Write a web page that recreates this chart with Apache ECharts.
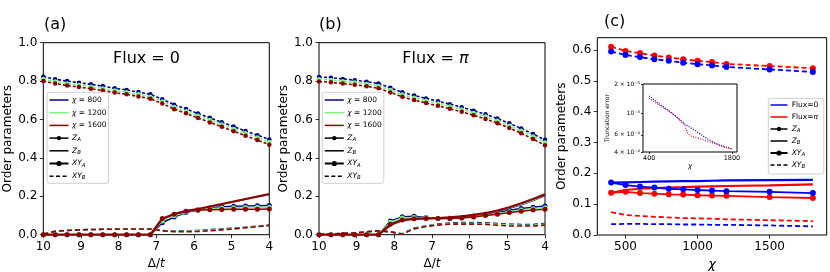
<!DOCTYPE html>
<html><head><meta charset="utf-8">
<script src="https://cdn.jsdelivr.net/npm/echarts@6/dist/echarts.min.js"></script>
<style>html,body{margin:0;padding:0;background:#fff}#c{width:830px;height:272px}</style>
</head><body><div id="c"></div>
<script>
// ---------- data ----------
const DELTA = [10, 9.684, 9.368, 9.053, 8.737, 8.421, 8.105, 7.789, 7.474, 7.158, 6.842, 6.526, 6.211, 5.895, 5.579, 5.263, 4.947, 4.632, 4.316, 4.0];
const DELTA_TICKS = [4, 5, 6, 7, 8, 9, 10];
const OP_TICKS = [0, 0.2, 0.4, 0.6, 0.8, 1.0];
const CHI_LABELS = ['800', '1200', '1600'];

// panel (a) Flux = 0
const a_XYA_800  = [0.823,0.810,0.800,0.792,0.783,0.774,0.763,0.754,0.743,0.731,0.706,0.677,0.655,0.631,0.609,0.586,0.563,0.540,0.518,0.496];
const a_XYA_1200 = [0.811,0.798,0.788,0.780,0.771,0.762,0.751,0.742,0.731,0.719,0.694,0.665,0.643,0.619,0.597,0.574,0.551,0.528,0.506,0.483];
const a_XYA_1600 = [0.800,0.787,0.777,0.769,0.760,0.751,0.740,0.731,0.720,0.708,0.683,0.654,0.632,0.608,0.585,0.562,0.539,0.516,0.493,0.469];
const a_ZA_800  = [0,0,0,0,0,0,0,0,0,0,0.062,0.092,0.115,0.130,0.139,0.145,0.148,0.150,0.151,0.152];
const a_ZA_1200 = [0,0,0,0,0,0,0,0,0,0,0.072,0.099,0.118,0.130,0.136,0.139,0.141,0.142,0.143,0.143];
const a_ZA_1600 = [0,0,0,0,0,0,0,0,0,0,0.085,0.106,0.122,0.127,0.130,0.131,0.132,0.133,0.133,0.134];
const a_ZB_800  = [0,0,0,0,0,0,0,0,0,0,0.065,0.095,0.117,0.131,0.145,0.158,0.171,0.184,0.197,0.209];
const a_ZB_1200 = [0,0,0,0,0,0,0,0,0,0,0.074,0.101,0.120,0.132,0.146,0.159,0.172,0.185,0.198,0.210];
const a_ZB_1600 = [0,0,0,0,0,0,0,0,0,0,0.083,0.108,0.124,0.134,0.147,0.160,0.173,0.186,0.199,0.212];
const a_XYB_800  = [0.003,0.018,0.022,0.025,0.027,0.028,0.029,0.030,0.030,0.030,0.022,0.018,0.019,0.022,0.026,0.030,0.034,0.039,0.044,0.048];
const a_XYB_1200 = [0.003,0.018,0.022,0.025,0.027,0.028,0.029,0.030,0.030,0.030,0.021,0.017,0.017,0.020,0.023,0.028,0.032,0.037,0.043,0.049];
const a_XYB_1600 = [0.003,0.018,0.022,0.025,0.027,0.028,0.029,0.030,0.030,0.030,0.020,0.016,0.015,0.017,0.020,0.025,0.030,0.036,0.042,0.050];

// panel (b) Flux = pi
const b_XYA_800  = [0.822,0.818,0.811,0.805,0.797,0.787,0.765,0.742,0.725,0.710,0.695,0.680,0.664,0.646,0.627,0.605,0.580,0.553,0.524,0.494];
const b_XYA_1200 = [0.810,0.806,0.799,0.793,0.785,0.775,0.753,0.730,0.713,0.698,0.683,0.668,0.652,0.634,0.615,0.593,0.568,0.541,0.511,0.480];
const b_XYA_1600 = [0.798,0.794,0.787,0.781,0.773,0.763,0.741,0.718,0.701,0.686,0.671,0.656,0.640,0.622,0.603,0.581,0.556,0.528,0.498,0.466];
const b_ZA_800  = [0,0,0,0,0,0,0.072,0.093,0.096,0.090,0.085,0.086,0.090,0.097,0.107,0.115,0.127,0.137,0.143,0.149];
const b_ZA_1200 = [0,0,0,0,0,0,0.065,0.087,0.090,0.088,0.085,0.085,0.088,0.094,0.103,0.110,0.120,0.129,0.135,0.141];
const b_ZA_1600 = [0,0,0,0,0,0,0.055,0.077,0.083,0.085,0.085,0.085,0.087,0.092,0.100,0.106,0.115,0.122,0.128,0.133];
const b_ZB_800  = [0,0,0,0,0,0,0.060,0.085,0.088,0.087,0.087,0.089,0.093,0.100,0.110,0.122,0.137,0.155,0.177,0.203];
const b_ZB_1200 = [0,0,0,0,0,0,0.055,0.080,0.085,0.086,0.087,0.089,0.094,0.101,0.111,0.125,0.140,0.158,0.180,0.206];
const b_ZB_1600 = [0,0,0,0,0,0,0.050,0.075,0.082,0.085,0.087,0.090,0.095,0.103,0.113,0.126,0.143,0.164,0.186,0.210];
const b_XYB_800  = [0.002,0.004,0.007,0.010,0.015,0.020,0.015,0.005,0.035,0.046,0.055,0.061,0.063,0.063,0.062,0.058,0.055,0.053,0.053,0.058];
const b_XYB_1200 = [0.002,0.004,0.007,0.010,0.015,0.020,0.015,0.004,0.032,0.045,0.052,0.058,0.059,0.059,0.058,0.054,0.051,0.049,0.049,0.054];
const b_XYB_1600 = [0.002,0.004,0.007,0.010,0.015,0.020,0.015,0.003,0.030,0.043,0.050,0.055,0.055,0.055,0.054,0.049,0.046,0.045,0.045,0.050];

// panel (c) vs chi
const CHI = [400,500,600,700,800,900,1000,1100,1200,1500,1800];
const CHI_TICKS = [500, 1000, 1500];
const C_Y_TICKS = [0, 0.1, 0.2, 0.3, 0.4, 0.5, 0.6];
const c_XYA_0  = [0.595,0.584,0.577,0.570,0.565,0.559,0.554,0.550,0.545,0.537,0.529];
const c_XYA_pi = [0.611,0.597,0.590,0.582,0.576,0.570,0.565,0.561,0.555,0.548,0.541];
const c_ZA_0   = [0.170,0.162,0.157,0.154,0.150,0.148,0.146,0.144,0.142,0.140,0.136];
const c_ZA_pi  = [0.137,0.140,0.136,0.134,0.132,0.131,0.129,0.128,0.127,0.123,0.120];
const c_ZB_0   = [0.170,0.171,0.172,0.173,0.174,0.175,0.175,0.176,0.177,0.178,0.179];
const c_ZB_pi  = [0.137,0.146,0.150,0.152,0.154,0.155,0.157,0.158,0.159,0.161,0.164];
const c_XYB_0  = [0.035,0.036,0.036,0.035,0.035,0.034,0.034,0.033,0.033,0.031,0.028];
const c_XYB_pi = [0.074,0.065,0.062,0.059,0.057,0.055,0.054,0.053,0.051,0.048,0.045];

// inset: truncation error
const INS_CHI_0  = [400,500,600,700,800,900,1000,1100,1200,1300,1400,1500,1600,1700,1800];
const INS_ERR_0  = [1.51e-3,1.35e-3,1.21e-3,1.10e-3,9.9e-4,8.8e-4,7.8e-4,7.1e-4,6.5e-4,5.9e-4,5.4e-4,5.0e-4,4.7e-4,4.5e-4,4.3e-4];
const INS_CHI_PI = [400,500,600,700,800,900,1000,1050,1100,1200,1300,1400,1500,1600,1700,1800];
const INS_ERR_PI = [1.43e-3,1.30e-3,1.18e-3,1.08e-3,9.8e-4,8.7e-4,7.6e-4,6.2e-4,5.85e-4,5.6e-4,5.4e-4,5.15e-4,4.9e-4,4.65e-4,4.45e-4,4.3e-4];
const INS_Y_TICKS = [4e-4, 6e-4, 1e-3, 2e-3];
const INS_Y_LABELS = ['4 × 10⁻⁴', '6 × 10⁻⁴', '10⁻³', '2 × 10⁻³'];
const INS_X_TICKS = [400, 1800];

// ---------- styling ----------
const FONT = 'DejaVu Sans';
const CHI_COLORS = ['#00008b', '#7cf57c', '#8b0000'];
const FLUX_COLORS = ['#0000ff', '#ff0000'];

function xy(xs, ys) { return xs.map((x, i) => [x, ys[i]]); }

const series = [];
function add(gi, xs, ys, color, kind, opt) {
  opt = opt || {};
  const s = {
    type: 'line', xAxisIndex: gi, yAxisIndex: gi, data: xy(xs, ys),
    animation: false, silent: true, z: opt.z || 2,
    lineStyle: { color: color, width: 1.5 }, itemStyle: { color: color },
    symbol: 'none', showSymbol: false
  };
  if (kind === 'XYA') { s.lineStyle.type = opt.dash || [3, 2]; s.lineStyle.width = opt.w || 1.6; s.symbol = 'circle'; s.showSymbol = true; s.symbolSize = opt.ms || 4.5; }
  if (kind === 'ZA') { s.lineStyle.width = opt.w || 1.5; s.symbol = 'circle'; s.showSymbol = true; s.symbolSize = opt.ms || 5; }
  if (kind === 'ZB') { s.lineStyle.width = opt.w || 2.2; }
  if (kind === 'XYB') { s.lineStyle.type = [5, 3]; s.lineStyle.width = opt.w || 1.6; }
  if (kind === 'dot') { s.lineStyle.type = [1, 1.5]; s.lineStyle.width = 1.2; }
  series.push(s);
}

const A = [[a_XYA_800,a_XYA_1200,a_XYA_1600],[a_ZA_800,a_ZA_1200,a_ZA_1600],[a_ZB_800,a_ZB_1200,a_ZB_1600],[a_XYB_800,a_XYB_1200,a_XYB_1600]];
const B = [[b_XYA_800,b_XYA_1200,b_XYA_1600],[b_ZA_800,b_ZA_1200,b_ZA_1600],[b_ZB_800,b_ZB_1200,b_ZB_1600],[b_XYB_800,b_XYB_1200,b_XYB_1600]];
const KINDS = ['XYA', 'ZA', 'ZB', 'XYB'];
[A, B].forEach((P, gi) => {
  P.forEach((set, k) => {
    set.forEach((ys, ci) => add(gi, DELTA, ys, CHI_COLORS[ci], KINDS[k], { z: 2 + ci, w: (k === 2 && ci < 2) ? 1.2 : undefined }));
  });
});
[[c_XYA_0, c_XYA_pi], [c_ZA_0, c_ZA_pi], [c_ZB_0, c_ZB_pi], [c_XYB_0, c_XYB_pi]].forEach((set, k) => {
  set.forEach((ys, fi) => add(2, CHI, ys, FLUX_COLORS[fi], KINDS[k], { z: 3 - fi, ms: 6, w: k === 2 ? 2.2 : 1.8, dash: [5, 3] }));
});
add(3, INS_CHI_0, INS_ERR_0, FLUX_COLORS[0], 'dot', { z: 2 });
add(3, INS_CHI_PI, INS_ERR_PI, FLUX_COLORS[1], 'dot', { z: 3 });

// ---------- axes ----------
const lblStyle = { color: '#000', fontFamily: FONT, fontSize: 12 };
function grid(l, t, w, h) {
  return { left: l, top: t, width: w, height: h, show: true, borderColor: '#000', borderWidth: 1,
           backgroundColor: '#fff', containLabel: false, outerBoundsMode: 'none' };
}
function valAxis(gi, min, max, ticks, fmt, extra, fs) {
  return Object.assign({
    type: 'value', gridIndex: gi, min: min, max: max,
    splitLine: { show: false }, axisLine: { show: false },
    axisTick: { show: true, inside: false, length: fs ? 2 : 3.5, customValues: ticks, lineStyle: { color: '#000', width: 0.8 } },
    axisLabel: Object.assign({}, lblStyle, { fontSize: fs || 12, customValues: ticks, formatter: fmt, margin: fs ? 3 : 6 }),
    nameTextStyle: Object.assign({}, lblStyle, { fontSize: fs || 12 })
  }, extra || {});
}
const f1 = v => v.toFixed(1);
const fint = v => String(Math.round(v));
const deltaName = { name: '{n|Δ/}{i|t}', nameLocation: 'middle', nameGap: 21,
  nameTextStyle: { color: '#000', fontFamily: FONT, fontSize: 12, rich: { n: { fontFamily: FONT, fontSize: 12, color: '#000' }, i: { fontFamily: FONT, fontSize: 12, fontStyle: 'italic', color: '#000' } } } };
const opName = { name: 'Order parameters', nameLocation: 'middle', nameGap: 29, nameRotate: 90 };

const xAxis = [
  valAxis(0, 4, 10, DELTA_TICKS, fint, Object.assign({ inverse: true }, deltaName)),
  valAxis(1, 4, 10, DELTA_TICKS, fint, Object.assign({ inverse: true }, deltaName)),
  valAxis(2, 304, 1896, CHI_TICKS, fint, { name: 'χ', nameLocation: 'middle', nameGap: 19,
    nameTextStyle: { color: '#000', fontFamily: FONT, fontSize: 13, fontStyle: 'italic' } }),
  valAxis(3, 295, 1885, INS_X_TICKS, fint, { name: 'χ', nameLocation: 'middle', nameGap: 10,
    nameTextStyle: { color: '#000', fontFamily: FONT, fontSize: 7, fontStyle: 'italic' } }, 6.5)
];
const yAxis = [
  valAxis(0, 0, 1, OP_TICKS, f1, opName),
  valAxis(1, 0, 1, OP_TICKS, f1, opName),
  valAxis(2, 0, 0.64, C_Y_TICKS, f1, opName),
  Object.assign(valAxis(3, 4e-4, 2e-3, INS_Y_TICKS, v => {
      let best = 0; INS_Y_TICKS.forEach((t, i) => { if (Math.abs(Math.log(t) - Math.log(v)) < Math.abs(Math.log(INS_Y_TICKS[best]) - Math.log(v))) best = i; });
      return INS_Y_LABELS[best];
    }, { name: 'Truncation error', nameLocation: 'middle', nameGap: 33, nameRotate: 90 }, 6), { type: 'log', logBase: 10 })
];

// ---------- legends & titles (graphic) ----------
const graphic = [];
function txt(x, y, text, opts) {
  graphic.push({ type: 'text', x: x, y: y, silent: true, z: 100, style: Object.assign({ text: text, fill: '#000', font: (opts && opts.font) || ('12px ' + FONT), textAlign: 'left', textVerticalAlign: 'middle' }, opts && opts.style ? opts.style : {}), rotation: opts && opts.rot || 0 });
}
function handle(x0, x1, y, color, kind, w) {
  const ls = { stroke: color, lineWidth: w || 1.5 };
  if (kind === 'dash') ls.lineDash = [4, 2.5];
  graphic.push({ type: 'line', silent: true, z: 101, shape: { x1: x0, y1: y, x2: x1, y2: y }, style: ls });
}
function dot(x, y, r) {
  graphic.push({ type: 'circle', silent: true, z: 102, shape: { cx: x, cy: y, r: r }, style: { fill: '#000' } });
}
function subLabel(x, y, main, sub, fs) {
  graphic.push({ type: 'text', x: x, y: y, silent: true, z: 103, style: {
    text: '{m|' + main + '}{s|' + sub + '}', textVerticalAlign: 'middle',
    rich: { m: { fontFamily: FONT, fontSize: fs, fontStyle: 'italic', fill: '#000', color: '#000', verticalAlign: 'middle', lineHeight: fs + 2 },
            s: { fontFamily: FONT, fontSize: fs * 0.72, fontStyle: 'italic', fill: '#000', color: '#000', padding: [fs * 0.45, 0, 0, 0], verticalAlign: 'middle', lineHeight: fs + 2 } } } });
}
function box(x, y, w, h) {
  graphic.push({ type: 'rect', silent: true, z: 99, shape: { x: x, y: y, width: w, height: h, r: 2 }, style: { fill: 'rgba(255,255,255,0.85)', stroke: '#d0d0d0', lineWidth: 1 } });
}
function chiLegend(x0) {
  box(x0, 92.3, 61.5, 91);
  const hx0 = x0 + 2.5, hx1 = x0 + 21.5, tx = x0 + 25;
  const ys = [100, 112.7, 125.4, 138.1, 150.8, 163.5, 176.2];
  CHI_LABELS.forEach((c, i) => {
    handle(hx0, hx1, ys[i], CHI_COLORS[i], 'solid', 1.5);
    graphic.push({ type: 'text', x: tx, y: ys[i], silent: true, z: 103, style: {
      text: '{i|χ} = ' + c, textVerticalAlign: 'middle', font: '7.5px ' + FONT, fill: '#000',
      rich: { i: { fontFamily: FONT, fontSize: 7.5, fontStyle: 'italic', fill: '#000' } } } });
  });
  handle(hx0, hx1, ys[3], '#000', 'solid', 1.5); dot((hx0 + hx1) / 2, ys[3], 2.2);
  subLabel(tx, ys[3], 'Z', 'A', 7.5);
  handle(hx0, hx1, ys[4], '#000', 'solid', 1.5);
  subLabel(tx, ys[4], 'Z', 'B', 7.5);
  handle(hx0, hx1, ys[5], '#000', 'solid', 2); dot((hx0 + hx1) / 2, ys[5], 2.6);
  subLabel(tx, ys[5], 'XY', 'A', 7.5);
  handle(hx0, hx1, ys[6], '#000', 'dash', 1.5);
  subLabel(tx, ys[6], 'XY', 'B', 7.5);
}
chiLegend(47);
chiLegend(322.3);

// panel (c) legend
(function () {
  box(768.3, 98.3, 55.5, 75.7);
  const hx0 = 770.5, hx1 = 787.5, tx = 791.7;
  const ys = [105, 117, 129, 141, 153, 165];
  handle(hx0, hx1, ys[0], FLUX_COLORS[0], 'solid', 1.5);
  txt(tx, ys[0], 'Flux=0', { font: '7.5px ' + FONT });
  handle(hx0, hx1, ys[1], FLUX_COLORS[1], 'solid', 1.5);
  graphic.push({ type: 'text', x: tx, y: ys[1], silent: true, z: 103, style: {
    text: 'Flux={i|π}', textVerticalAlign: 'middle', font: '7.5px ' + FONT, fill: '#000',
    rich: { i: { fontFamily: FONT, fontSize: 7.5, fontStyle: 'italic', fill: '#000' } } } });
  handle(hx0, hx1, ys[2], '#000', 'solid', 1.5); dot((hx0 + hx1) / 2, ys[2], 2.2);
  subLabel(tx, ys[2], 'Z', 'A', 7.5);
  handle(hx0, hx1, ys[3], '#000', 'solid', 1.5);
  subLabel(tx, ys[3], 'Z', 'B', 7.5);
  handle(hx0, hx1, ys[4], '#000', 'solid', 2); dot((hx0 + hx1) / 2, ys[4], 2.6);
  subLabel(tx, ys[4], 'XY', 'A', 7.5);
  handle(hx0, hx1, ys[5], '#000', 'dash', 1.5);
  subLabel(tx, ys[5], 'XY', 'B', 7.5);
})();

// panel labels & flux titles
txt(44, 25, '(a)', { font: '16px ' + FONT });
txt(319, 25, '(b)', { font: '16px ' + FONT });
txt(604, 22, '(c)', { font: '16px ' + FONT });
txt(146.5, 59, 'Flux = 0', { font: '16px ' + FONT, style: { textAlign: 'center' } });
graphic.push({ type: 'text', x: 435.5, y: 59, silent: true, z: 100, style: {
  text: 'Flux = {i|π}', textAlign: 'center', textVerticalAlign: 'middle', font: '16px ' + FONT, fill: '#000',
  rich: { i: { fontFamily: FONT, fontSize: 16, fontStyle: 'italic', fill: '#000' } } } });

const chart = echarts.init(document.getElementById('c'), null, { renderer: 'canvas' });
chart.setOption({
  animation: false,
  backgroundColor: '#fff',
  textStyle: { fontFamily: FONT },
  grid: [grid(43.3, 42.7, 226, 192), grid(319, 42.7, 226, 192), grid(597.3, 37.7, 229.4, 197.3), grid(643, 84, 94, 68)],
  xAxis: xAxis, yAxis: yAxis, series: series, graphic: graphic
});
</script></body></html>
